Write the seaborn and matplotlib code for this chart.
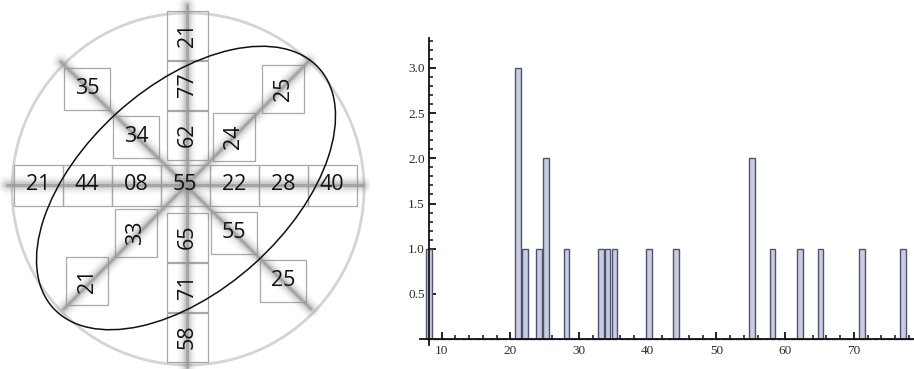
import numpy as np
import pandas as pd
import seaborn as sns
import matplotlib.pyplot as plt
from matplotlib.patches import Rectangle, Circle, Ellipse
from matplotlib.ticker import MultipleLocator, FormatStrFormatter

# numbers (center cell is shared)
center_val = "55"
row_vals = ["21", "44", "08", "22", "28", "40"]        # left to right, center skipped
row_pos = [-3, -2, -1, 1, 2, 3]
col_vals = ["21", "77", "62", "65", "71", "58"]        # top to bottom, center skipped
col_pos = [-3, -2, -1, 1, 2, 3]
diag_nw_vals = ["35", "34", "55", "25"]                # NW -> SE
diag_ne_vals = ["25", "24", "33", "21"]                # NE -> SW
diag_pos = [-2, -1, 1, 2]

# histogram of all the numbers
all_vals = [center_val] + row_vals + col_vals + diag_nw_vals + diag_ne_vals
df = pd.DataFrame({"value": [int(v) for v in all_vals]})

sns.set_style("white")
plt.rcParams['font.family'] = ['Open Sans', 'DejaVu Sans']

fig = plt.figure(figsize=(9.14, 3.69), dpi=100)

#%%
# left panel: diagram, drawn in pixel coordinates
ax0 = fig.add_axes([0, 0, 370 / 914, 1])
ax0.set_xlim(0, 370)
ax0.set_ylim(369, 0)
ax0.axis('off')

cx, cy = 185, 185
pw, ph = 49, 41      # wide cell
box_kw = dict(facecolor='none', edgecolor='#a8a8a8', lw=0.9, zorder=2)
txt_kw = dict(ha='center', va='center', fontsize=15.5, color='#111111', zorder=6)

ax0.add_patch(Circle((188, 189), 176, fill=False, edgecolor='#d4d4d4', lw=2, zorder=1))

# blurred gray guide lines
lines = [((cx - 178, cy), (cx + 178, cy)),
         ((cx + 2, cy - 180), (cx + 2, cy + 182)),
         ((cx - 124, cy - 123), (cx + 126, cy + 124)),
         ((cx + 124, cy - 124), (cx - 121, cy + 124))]
for (x1, y1), (x2, y2) in lines:
    for lw, a, c in [(13, 0.05, '#808080'), (10, 0.08, '#808080'), (7, 0.12, '#808080'),
                     (4.5, 0.22, '#8c8c8c'), (2.2, 0.75, '#9a9a9a')]:
        ax0.plot([x1, x2], [y1, y2], color=c, lw=lw, alpha=a,
                 solid_capstyle='round', zorder=3)

# horizontal row (center included)
for p in [0] + row_pos:
    ax0.add_patch(Rectangle((cx + p * pw - pw / 2, cy - ph / 2), pw, ph, **box_kw))
for v, p in zip([center_val] + row_vals, [0] + row_pos):
    ax0.text(cx + p * pw, cy, v, **txt_kw)

# vertical column, rotated text
for v, p in zip(col_vals, col_pos):
    yy = cy + p * 50 - (0 if p < 0 else -2)
    ax0.add_patch(Rectangle((cx + 2 - ph / 2, yy - pw / 2), ph, pw, **box_kw))
    ax0.text(cx + 2, yy, v, rotation=90, **txt_kw)

# NW-SE diagonal, horizontal text
for v, p in zip(diag_nw_vals, diag_pos):
    xx, yy = cx + p * 49, cy + p * 48
    ax0.add_patch(Rectangle((xx - 23, yy - 21), 46, 42, **box_kw))
    ax0.text(xx, yy, v, **txt_kw)

# NE-SW diagonal, rotated text
for v, p in zip(diag_ne_vals, diag_pos):
    xx, yy = cx - p * 49, cy + p * 48
    ax0.add_patch(Rectangle((xx - 21, yy - 24), 42, 48, **box_kw))
    ax0.text(xx, yy, v, rotation=90, **txt_kw)

ax0.add_patch(Ellipse((186, 188), 358, 204, angle=-42, fill=False,
                      edgecolor='#111111', lw=1.1, zorder=5))

#%%
# right panel: histogram of the numbers
ax = fig.add_axes([420 / 914, 0.066, 494 / 914, 0.830])
sns.histplot(data=df, x='value', bins=np.arange(7.65, 79, 1), shrink=0.82,
             color='#c9cce2', edgecolor='#4e5370', linewidth=1.0, alpha=1, ax=ax)
ax.set_xlim(6.84, 78.75)
ax.set_ylim(-0.06, 3.326)
ax.set_xlabel('')
ax.set_ylabel('')

for s in ['top', 'right']:
    ax.spines[s].set_visible(False)
ax.spines['left'].set_position(('data', 8.15))
ax.spines['bottom'].set_position(('data', 0))
for s in ['left', 'bottom']:
    ax.spines[s].set_linewidth(1.3)
    ax.spines[s].set_color('#111111')
    ax.spines[s].set_zorder(3)

ax.set_xticks(range(10, 71, 10))
ax.xaxis.set_minor_locator(MultipleLocator(2))
ax.set_yticks(np.arange(0.5, 3.01, 0.5))
ax.yaxis.set_major_formatter(FormatStrFormatter('%.1f'))
ax.yaxis.set_minor_locator(MultipleLocator(0.1))
ax.tick_params(which='both', bottom=True, left=True)
ax.tick_params(which='major', direction='in', length=5, width=1.3, color='#111111',
               labelsize=9.5, labelcolor='#2a2a2a', pad=4)
ax.tick_params(which='minor', direction='in', length=3, width=1.1, color='#111111')
ax.tick_params(axis='y', which='major', pad=3)
for lab in ax.get_xticklabels() + ax.get_yticklabels():
    lab.set_family('Liberation Serif')

fig.savefig('out.png', dpi=100)
